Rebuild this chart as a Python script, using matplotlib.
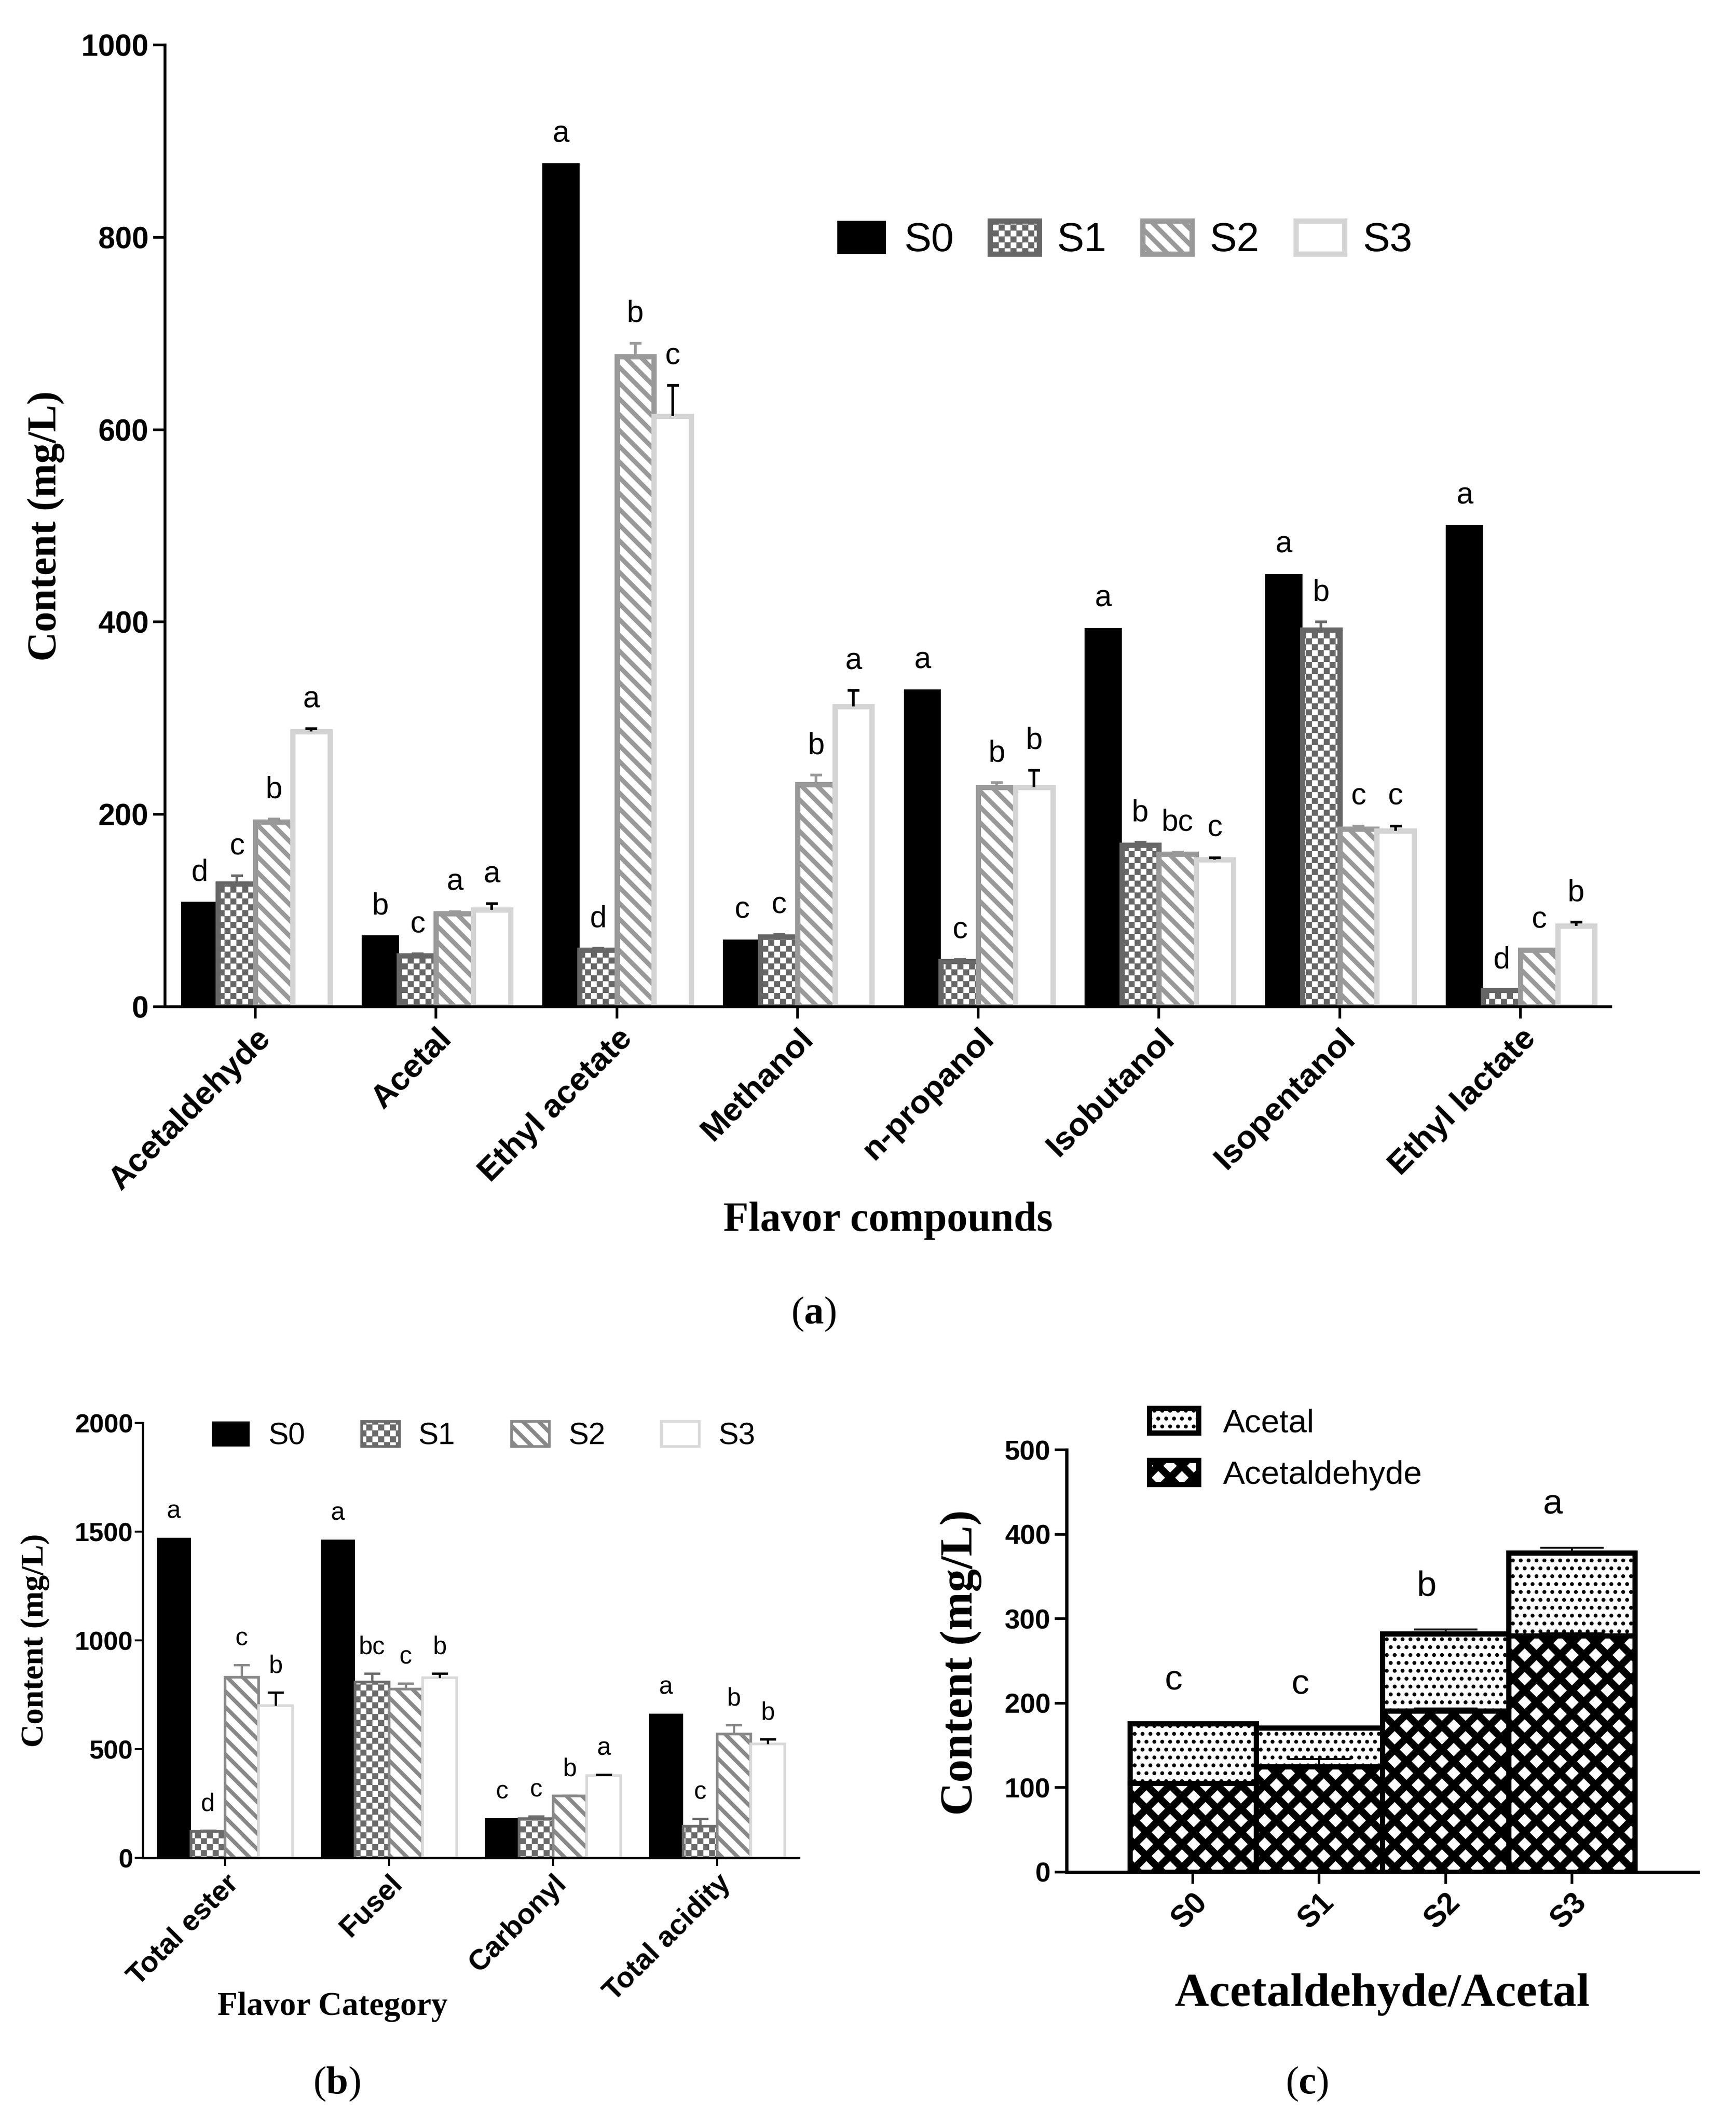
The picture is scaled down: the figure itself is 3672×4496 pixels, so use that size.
import numpy as np
import matplotlib
matplotlib.use('Agg')
import matplotlib.pyplot as plt
import matplotlib.hatch as mhatch
from matplotlib.path import Path

# --- Panel (a): individual flavor compounds (mg/L) ---
compounds = ['Acetaldehyde', 'Acetal', 'Ethyl acetate', 'Methanol',
             'n-propanol', 'Isobutanol', 'Isopentanol', 'Ethyl lactate']
a_s0 = [109, 74, 877, 70, 330, 394, 450, 501]
a_s1 = [128, 53, 59, 73, 47, 168, 392, 17]
a_s2 = [192, 97, 676, 231, 228, 159, 185, 59]
a_s3 = [286, 101, 614, 312, 228, 153, 183, 84]
a_e1 = [8, 2, 2, 2, 2, 3, 8, 1]
a_e2 = [3, 2, 14, 10, 5, 2, 3, 1]
a_e3 = [3, 6, 32, 17, 18, 2, 5, 4]
a_let0 = ['d', 'b', 'a', 'c', 'a', 'a', 'a', 'a']
a_let1 = ['c', 'c', 'd', 'c', 'c', 'b', 'b', 'd']
a_let2 = ['b', 'a', 'b', 'b', 'b', 'bc', 'c', 'c']
a_let3 = ['a', 'a', 'c', 'a', 'b', 'c', 'c', 'b']

# --- Panel (b): flavor categories ---
categories = ['Total ester', 'Fusel', 'Carbonyl', 'Total acidity']
b_s0 = [1471, 1464, 183, 664]
b_s1 = [121, 809, 181, 146]
b_s2 = [831, 776, 284, 569]
b_s3 = [701, 829, 379, 525]
b_e1 = [5, 38, 10, 35]
b_e2 = [57, 26, 4, 42]
b_e3 = [60, 18, 4, 20]
b_let0 = ['a', 'a', 'c', 'a']
b_let1 = ['d', 'bc', 'c', 'c']
b_let2 = ['c', 'c', 'b', 'b']
b_let3 = ['b', 'b', 'a', 'b']

# --- Panel (c): acetaldehyde / acetal stacked ---
samples = ['S0', 'S1', 'S2', 'S3']
c_acetaldehyde = [105, 125, 191, 280]
c_acetal = [71, 46, 91, 98]
c_err_ald = [0, 9, 3, 3]
c_err_tot = [0, 0, 5, 6]
c_letters = ['c', 'c', 'b', 'a']

series_names = ['S0', 'S1', 'S2', 'S3']


# --- checkerboard hatch (takes the place of 'O') ---
class CheckerHatch(mhatch.HatchPatternBase):
    def __init__(self, hatch, density):
        self.cells = hatch.count('O') * 8
        self.num_vertices = self.cells * self.cells // 2 * 5

    def set_vertices_and_codes(self, vertices, codes):
        s = 1.0 / self.cells
        square = np.array([[0, 0], [1, 0], [1, 1], [0, 1], [0, 0]], float) * s
        k = 0
        for i in range(self.cells):
            for j in range(self.cells):
                if (i + j) % 2:
                    continue
                vertices[k:k + 5] = square + [j * s, i * s]
                codes[k:k + 5] = [Path.MOVETO, Path.LINETO, Path.LINETO,
                                  Path.LINETO, Path.CLOSEPOLY]
                k += 5


# --- coarse cross hatch, diagonals half a tile apart (takes the place of 'o') ---
class DiamondHatch(mhatch.HatchPatternBase):
    def __init__(self, hatch, density):
        self.steps = np.arange(-1.0, 1.01, 0.5) if 'o' in hatch else np.array([])
        self.num_vertices = len(self.steps) * 4

    def set_vertices_and_codes(self, vertices, codes):
        n = len(self.steps)
        c = self.steps
        vertices[0:2 * n:2] = np.column_stack([np.zeros(n), c])
        vertices[1:2 * n:2] = np.column_stack([np.ones(n), c + 1])
        vertices[2 * n::2] = np.column_stack([np.zeros(n), c + 1])
        vertices[2 * n + 1::2] = np.column_stack([np.ones(n), c])
        codes[0::2] = Path.MOVETO
        codes[1::2] = Path.LINETO


mhatch._hatch_types[mhatch._hatch_types.index(mhatch.LargeCircles)] = CheckerHatch
mhatch._hatch_types[mhatch._hatch_types.index(mhatch.SmallCircles)] = DiamondHatch

# --- figure setup ---
W, H, DPI = 3672, 4496, 100
plt.rcParams['font.family'] = 'Liberation Sans'
plt.rcParams['mathtext.fontset'] = 'custom'
plt.rcParams['mathtext.rm'] = 'Liberation Serif'
plt.rcParams['mathtext.bf'] = 'Liberation Serif:bold'
SERIF = 'Liberation Serif'

fig = plt.figure(figsize=(W / DPI, H / DPI), dpi=DPI)


def axes_box(left, top, right, bottom):
    return fig.add_axes([left / W, 1 - bottom / H, (right - left) / W, (bottom - top) / H])


def style_axes(ax, spine_w, tick_len, tick_w, tick_size, pad):
    for s in ['top', 'right']:
        ax.spines[s].set_visible(False)
    for s in ['left', 'bottom']:
        ax.spines[s].set_linewidth(spine_w)
    ax.tick_params(length=tick_len, width=tick_w, labelsize=tick_size, pad=pad)
    plt.setp(ax.get_yticklabels(), fontweight='bold')


def set_hatch_lw(patches, lw):
    for p in patches:
        if hasattr(p, 'set_hatch_linewidth'):
            p.set_hatch_linewidth(lw)


def up_errorbar(ax, x, y, err, color, lw, capsize, z=3):
    eb = ax.errorbar(x, y, yerr=[np.zeros(len(err)), err], fmt='none', ecolor=color,
                     elinewidth=lw, capsize=capsize, capthick=lw, zorder=z)
    eb[1][0].set_visible(False)   # keep only the upper cap


def grouped_bars(ax, values, errors, letters, styles, width, gap, letter_size,
                 err_lw, capsize):
    x = np.arange(len(values[0]))
    for k in range(4):
        st = styles[k]
        pos = x + (k - 1.5) * width
        bars = ax.bar(pos, values[k], width, color=st['fc'], edgecolor=st['ec'],
                      linewidth=st['lw'], hatch=st['hatch'], label=series_names[k],
                      zorder=2)
        set_hatch_lw(bars, st['hlw'])
        tops = np.array(values[k], float)
        if errors[k] is not None:
            err = np.array(errors[k], float)
            up_errorbar(ax, pos, tops, err, st['errc'], err_lw, capsize)
            tops = tops + err
        for xp, t, s in zip(pos, tops, letters[k]):
            ax.text(xp, t + gap, s, ha='center', va='baseline',
                    fontsize=letter_size, zorder=4)
    ax.set_xticks(x)
    ax.set_xlim(-0.5, len(x) - 0.5)


def styles_for(c1, c2, c3, lw, stripe_lw):
    return [dict(fc='black', ec='black', lw=0, hatch=None, hlw=1, errc='black'),
            dict(fc='white', ec=c1, lw=lw, hatch='O', hlw=0.3, errc=c1),
            dict(fc='white', ec=c2, lw=lw, hatch='\\', hlw=stripe_lw, errc=c2),
            dict(fc='white', ec=c3, lw=lw, hatch=None, hlw=1, errc='black')]


# ================= panel (a) =================
ax_a = axes_box(349, 95, 3407, 2129)
styles_a = styles_for('#666666', '#999999', '#d4d4d4', 8, 7)
grouped_bars(ax_a, [a_s0, a_s1, a_s2, a_s3], [None, a_e1, a_e2, a_e3],
             [a_let0, a_let1, a_let2, a_let3], styles_a,
             width=0.206, gap=22, letter_size=46, err_lw=4, capsize=9)
ax_a.set_ylim(0, 1000)
ax_a.set_yticks(range(0, 1001, 200))
ax_a.set_xticklabels(compounds, rotation=45, ha='right', rotation_mode='anchor',
                     fontweight='bold')
style_axes(ax_a, 4.3, 18, 4, 46, 7)
ax_a.tick_params(axis='x', labelsize=50)
ax_a.set_ylabel('Content (mg/L)', family=SERIF, fontweight='bold', fontsize=62, va='center')
ax_a.yaxis.set_label_coords(-0.0824, 0.5)
ax_a.set_xlabel('Flavor compounds', family=SERIF, fontweight='bold', fontsize=63, va='center')
ax_a.xaxis.set_label_coords(0.5, -0.2227)
leg_a = ax_a.legend(ncol=4, frameon=False, fontsize=62, handlelength=1.2, handleheight=0.875,
                    handletextpad=0.44, columnspacing=0.89, borderpad=0, borderaxespad=0,
                    loc='center left', bbox_to_anchor=(1771 / W, 1 - 508 / H),
                    bbox_transform=fig.transFigure)
for h, st in zip(leg_a.legend_handles, styles_a):
    set_hatch_lw([h], st['hlw'])
fig.text(1721 / W, 1 - 2779 / H, r'($\mathbf{a}$)', family=SERIF, fontsize=60,
         ha='center', va='center')

# ================= panel (b) =================
ax_b = axes_box(302, 3009, 1690, 3929)
styles_b = styles_for('#6a6a6a', '#888888', '#d9d9d9', 4, 6)
grouped_bars(ax_b, [b_s0, b_s1, b_s2, b_s3], [None, b_e1, b_e2, b_e3],
             [b_let0, b_let1, b_let2, b_let3], styles_b,
             width=0.207, gap=90, letter_size=38, err_lw=3.5, capsize=12)
ax_b.set_ylim(0, 2000)
ax_b.set_yticks(range(0, 2001, 500))
ax_b.set_xticklabels(categories, rotation=45, ha='right', rotation_mode='anchor',
                     fontweight='bold')
style_axes(ax_b, 3.3, 12, 3, 40, 3)
ax_b.tick_params(axis='x', labelsize=44, pad=6)
ax_b.set_ylabel('Content (mg/L)', family=SERIF, fontweight='bold', fontsize=49, va='center')
ax_b.yaxis.set_label_coords(-0.164, 0.5)
ax_b.set_xlabel('Flavor Category', family=SERIF, fontweight='bold', fontsize=50, va='center')
ax_b.xaxis.set_label_coords(0.289, -0.342)
leg_b = ax_b.legend(ncol=4, frameon=False, fontsize=46, handlelength=1.25, handleheight=0.89,
                    handletextpad=0.62, columnspacing=1.87, borderpad=0, borderaxespad=0,
                    loc='center left', bbox_to_anchor=(448 / W, 1 - 3037 / H),
                    bbox_transform=fig.transFigure)
for h, st in zip(leg_b.legend_handles, styles_b):
    set_hatch_lw([h], st['hlw'])
fig.text(712 / W, 1 - 4407 / H, r'($\mathbf{b}$)', family=SERIF, fontsize=60,
         ha='center', va='center')

# ================= panel (c) =================
ax_c = axes_box(2256, 3066, 3592, 3959)
xc = np.arange(len(samples))
ald = np.array(c_acetaldehyde, float)
tot = ald + np.array(c_acetal, float)
b1 = ax_c.bar(xc, c_acetaldehyde, 1.0, color='white', edgecolor='black', linewidth=8,
              hatch='o', label='Acetaldehyde', zorder=2)
set_hatch_lw(b1, 11)
b2 = ax_c.bar(xc, c_acetal, 1.0, bottom=c_acetaldehyde, color='white', edgecolor='black',
              linewidth=8, hatch='.', label='Acetal', zorder=2)
set_hatch_lw(b2, 3.5)
up_errorbar(ax_c, xc, ald, c_err_ald, 'black', 3, 48, z=3)
up_errorbar(ax_c, xc, tot, c_err_tot, 'black', 3, 48, z=3)
for xp, t, e, s in zip(xc, tot, c_err_tot, c_letters):
    ax_c.text(xp - 0.15, t + e + 40, s, ha='center', va='baseline', fontsize=54, zorder=4)
ax_c.set_xlim(-1, 4)
ax_c.set_ylim(0, 500)
ax_c.set_yticks(range(0, 501, 100))
ax_c.set_xticks(xc)
ax_c.set_xticklabels(samples, rotation=45, ha='right', rotation_mode='anchor',
                     fontweight='bold')
style_axes(ax_c, 5, 18, 4, 42, 6.5)
ax_c.tick_params(axis='x', labelsize=46)
ax_c.set_ylabel('Content (mg/L)', family=SERIF, fontweight='bold', fontsize=70, va='center')
ax_c.yaxis.set_label_coords(-0.167, 0.496)
ax_c.set_xlabel('Acetaldehyde/Acetal', family=SERIF, fontweight='bold', fontsize=72,
                va='center')
ax_c.xaxis.set_label_coords(0.5, -0.29)
leg_c = ax_c.legend([b2, b1], ['Acetal', 'Acetaldehyde'], frameon=False, fontsize=50,
                    handlelength=1.5, handleheight=0.77, handletextpad=0.75, labelspacing=0.65,
                    borderpad=0, borderaxespad=0, loc='center left',
                    bbox_to_anchor=(2431 / W, 1 - 3065 / H), bbox_transform=fig.transFigure)
for h, lw in zip(leg_c.legend_handles, [3.5, 11]):
    set_hatch_lw([h], lw)
fig.text(2764 / W, 1 - 4407 / H, r'($\mathbf{c}$)', family=SERIF, fontsize=60,
         ha='center', va='center')

fig.savefig('out.png', dpi=DPI, facecolor='white')
